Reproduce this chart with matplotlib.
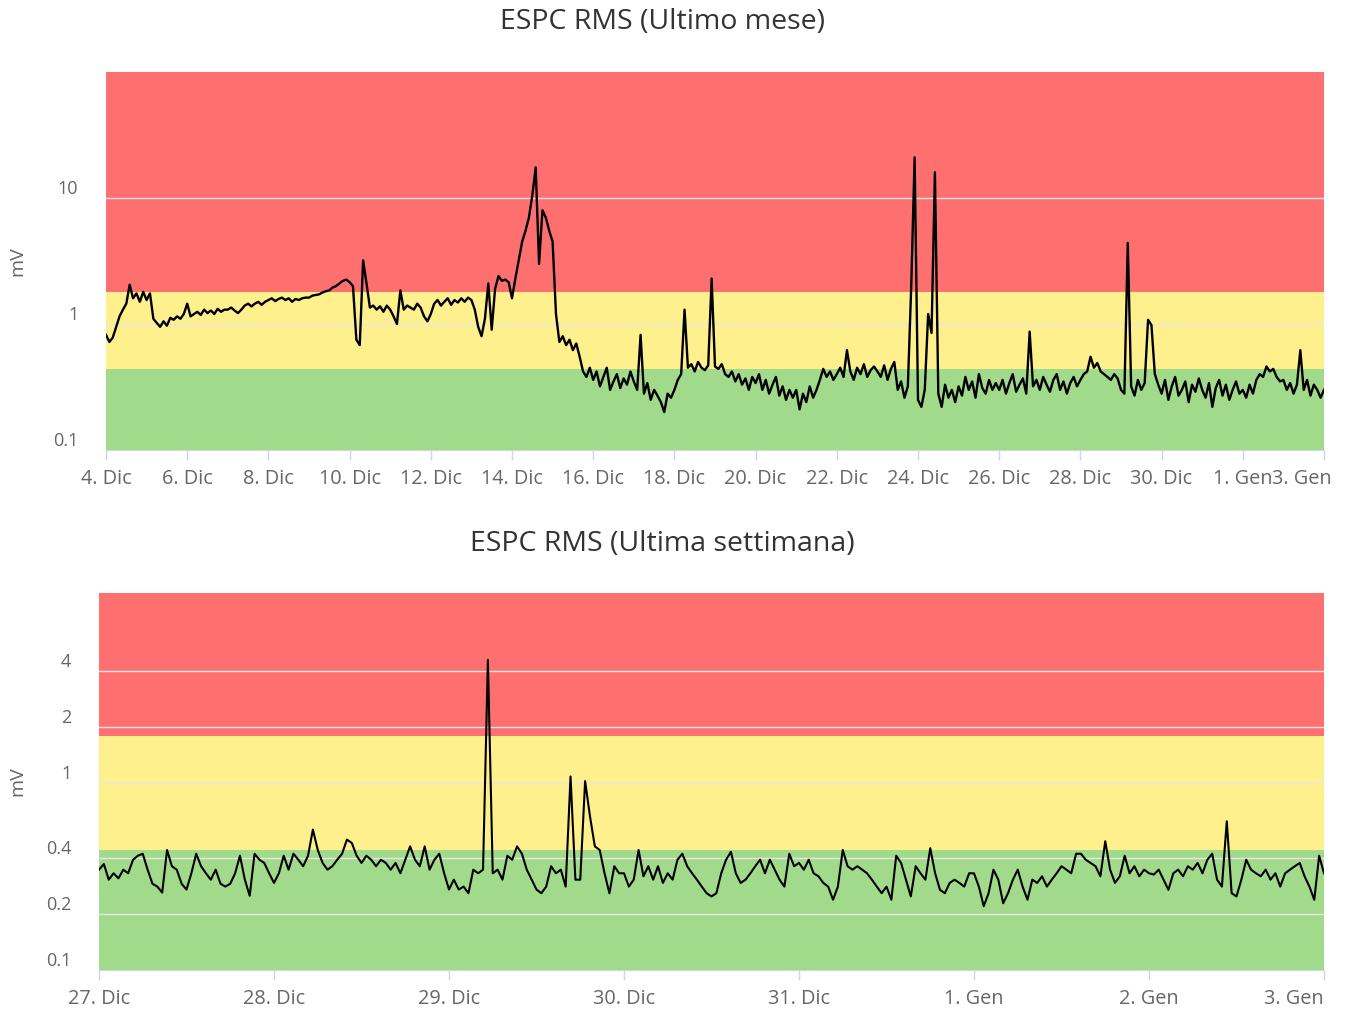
import numpy as np
import matplotlib.pyplot as plt
from matplotlib.transforms import ScaledTranslation

plt.rcParams['font.family'] = ['Open Sans', 'DejaVu Sans']

# ESPC RMS, last month: one value every 2 hours from 4 Dec 00:00 (mV)
month_rms = [
    0.82, 0.72, 0.78, 0.95, 1.15, 1.3, 1.45, 2.05, 1.6, 1.75, 1.5, 1.8,
    1.55, 1.75, 1.1, 1.02, 0.95, 1.05, 0.97, 1.12, 1.08, 1.15, 1.1, 1.2,
    1.45, 1.15, 1.2, 1.25, 1.18, 1.3, 1.22, 1.28, 1.2, 1.32, 1.25, 1.3,
    1.3, 1.35, 1.28, 1.22, 1.3, 1.4, 1.45, 1.38, 1.45, 1.5, 1.42, 1.5,
    1.55, 1.6, 1.52, 1.58, 1.62, 1.55, 1.6, 1.5, 1.58, 1.55, 1.6, 1.62,
    1.62, 1.68, 1.7, 1.72, 1.78, 1.82, 1.85, 1.95, 2.0, 2.1, 2.2, 2.25,
    2.15, 2.0, 0.75, 0.68, 3.2, 2.1, 1.35, 1.4, 1.3, 1.38, 1.25, 1.4,
    1.3, 1.15, 1.0, 1.85, 1.3, 1.4, 1.35, 1.3, 1.45, 1.35, 1.15, 1.05,
    1.2, 1.45, 1.55, 1.4, 1.5, 1.6, 1.42, 1.55, 1.48, 1.6, 1.5, 1.62,
    1.55, 1.3, 0.95, 0.8, 1.1, 2.1, 0.9, 1.9, 2.4, 2.2, 2.25, 2.15,
    1.6, 2.3, 3.2, 4.5, 5.5, 7.0, 10.5, 17.5, 3.0, 8.0, 7.0, 5.5,
    4.5, 1.2, 0.72, 0.8, 0.68, 0.75, 0.62, 0.7, 0.55, 0.42, 0.38, 0.45,
    0.36, 0.42, 0.32, 0.38, 0.45, 0.3, 0.35, 0.4, 0.31, 0.37, 0.33, 0.42,
    0.35, 0.3, 0.82, 0.28, 0.34, 0.25, 0.3, 0.27, 0.24, 0.2, 0.28, 0.26,
    0.3, 0.36, 0.4, 1.3, 0.45, 0.48, 0.42, 0.5, 0.45, 0.43, 0.47, 2.3,
    0.46, 0.44, 0.48, 0.4, 0.38, 0.42, 0.35, 0.4, 0.33, 0.37, 0.3, 0.38,
    0.34, 0.4, 0.3, 0.36, 0.28, 0.33, 0.38, 0.27, 0.32, 0.25, 0.3, 0.26,
    0.3, 0.21, 0.28, 0.24, 0.32, 0.26, 0.3, 0.36, 0.44, 0.38, 0.42, 0.36,
    0.4, 0.45, 0.38, 0.62, 0.42, 0.36, 0.45, 0.4, 0.48, 0.38, 0.43, 0.46,
    0.42, 0.38, 0.47, 0.36, 0.44, 0.5, 0.3, 0.35, 0.26, 0.32, 2.0, 21.0,
    0.25, 0.22, 0.3, 1.2, 0.85, 16.0, 0.28, 0.22, 0.33, 0.26, 0.3, 0.24,
    0.32, 0.27, 0.38, 0.3, 0.35, 0.26, 0.4, 0.31, 0.28, 0.36, 0.3, 0.34,
    0.3, 0.36, 0.28, 0.34, 0.4, 0.29, 0.33, 0.37, 0.28, 0.87, 0.32, 0.36,
    0.3, 0.38, 0.33, 0.29, 0.36, 0.4, 0.3, 0.35, 0.28, 0.34, 0.38, 0.32,
    0.36, 0.4, 0.42, 0.55, 0.45, 0.49, 0.42, 0.4, 0.38, 0.36, 0.4, 0.37,
    0.3, 0.28, 4.4, 0.32, 0.27, 0.36, 0.3, 0.34, 1.08, 0.98, 0.4, 0.33,
    0.28, 0.36, 0.25, 0.32, 0.38, 0.27, 0.3, 0.35, 0.24, 0.33, 0.29, 0.37,
    0.3, 0.26, 0.34, 0.22, 0.31, 0.36, 0.27, 0.33, 0.25, 0.3, 0.35, 0.28,
    0.3, 0.26, 0.33, 0.28, 0.36, 0.4, 0.38, 0.46, 0.42, 0.44, 0.38, 0.35,
    0.36, 0.3, 0.34, 0.28, 0.33, 0.62, 0.3, 0.36, 0.27, 0.33, 0.3, 0.26,
    0.3,
]

# ESPC RMS, last week: one value every 40 minutes from 27 Dec 00:00 (mV)
week_rms = [
    0.345, 0.37, 0.305, 0.33, 0.31, 0.345, 0.33, 0.39, 0.41, 0.42,
    0.345, 0.29, 0.28, 0.26, 0.44, 0.36, 0.345, 0.29, 0.27, 0.33,
    0.42, 0.36, 0.33, 0.305, 0.345, 0.29, 0.28, 0.29, 0.33, 0.41,
    0.305, 0.25, 0.42, 0.39, 0.375, 0.33,
    0.293, 0.33, 0.41, 0.345, 0.42, 0.39, 0.36, 0.41, 0.566, 0.44,
    0.375, 0.345, 0.36, 0.39, 0.42, 0.5, 0.48, 0.41, 0.375, 0.41,
    0.39, 0.36, 0.39, 0.375, 0.345, 0.375, 0.33, 0.39, 0.46, 0.39,
    0.36, 0.46, 0.345, 0.39, 0.42, 0.33,
    0.27, 0.305, 0.27, 0.28, 0.258, 0.345, 0.33, 0.345, 4.6, 0.33,
    0.345, 0.305, 0.41, 0.39, 0.46, 0.42, 0.345, 0.305, 0.27, 0.258,
    0.28, 0.36, 0.33, 0.345, 0.28, 1.09, 0.305, 0.305, 1.03, 0.667,
    0.46, 0.44, 0.33, 0.258, 0.36, 0.33,
    0.33, 0.28, 0.305, 0.44, 0.318, 0.36, 0.305, 0.36, 0.293, 0.33,
    0.305, 0.39, 0.42, 0.36, 0.33, 0.305, 0.28, 0.258, 0.248, 0.258,
    0.33, 0.39, 0.43, 0.33, 0.293, 0.305, 0.33, 0.36, 0.39, 0.33,
    0.39, 0.345, 0.305, 0.28, 0.42, 0.36,
    0.375, 0.345, 0.39, 0.33, 0.318, 0.293, 0.28, 0.238, 0.28, 0.44,
    0.36, 0.345, 0.36, 0.345, 0.33, 0.305, 0.28, 0.258, 0.28, 0.238,
    0.41, 0.375, 0.305, 0.248, 0.36, 0.33, 0.305, 0.45, 0.33, 0.269,
    0.258, 0.293, 0.305, 0.293, 0.28, 0.33,
    0.33, 0.28, 0.22, 0.258, 0.345, 0.305, 0.228, 0.258, 0.305, 0.345,
    0.28, 0.238, 0.305, 0.293, 0.318, 0.28, 0.305, 0.33, 0.36, 0.345,
    0.33, 0.42, 0.42, 0.39, 0.375, 0.36, 0.318, 0.49, 0.345, 0.293,
    0.318, 0.41, 0.33, 0.36, 0.318, 0.345,
    0.33, 0.325, 0.345, 0.305, 0.269, 0.33, 0.345, 0.318, 0.36, 0.345,
    0.375, 0.33, 0.39, 0.42, 0.305, 0.28, 0.627, 0.258, 0.248, 0.305,
    0.39, 0.345, 0.33, 0.318, 0.345, 0.305, 0.33, 0.28, 0.33, 0.345,
    0.36, 0.375, 0.318, 0.28, 0.238, 0.41,
    0.33,
]

month_labels = ['4. Dic', '6. Dic', '8. Dic', '10. Dic', '12. Dic', '14. Dic',
                '16. Dic', '18. Dic', '20. Dic', '22. Dic', '24. Dic', '26. Dic',
                '28. Dic', '30. Dic', '1. Gen', '3. Gen']
week_labels = ['27. Dic', '28. Dic', '29. Dic', '30. Dic', '31. Dic',
               '1. Gen', '2. Gen', '3. Gen']

# alarm bands (mV)
green_top = 0.44
yellow_top = 1.8

month_t = np.arange(len(month_rms)) / 12.0   # days since 4 Dic
week_t = np.arange(len(week_rms)) / 36.0     # days since 27 Dic

fig = plt.figure(figsize=(13.47, 10.10), dpi=100)
ax1 = fig.add_axes([106 / 1347, 1 - 450 / 1010, 1218 / 1347, 378 / 1010])
ax2 = fig.add_axes([99 / 1347, 1 - 970 / 1010, 1225 / 1347, 377 / 1010])


def style(ax, t, v, ymax, yticks, ylabels, xlabels, xstep, lw, last_shift):
    ax.set_yscale('log')
    ax.set_ylim(0.1, ymax)
    ax.set_xlim(0, t[-1])
    ax.axhspan(0.1, green_top, color='#a2da8c', lw=0, zorder=0)
    ax.axhspan(green_top, yellow_top, color='#fef08c', lw=0, zorder=0)
    ax.axhspan(yellow_top, ymax, color='#fe7070', lw=0, zorder=0)
    for y in yticks[1:]:
        ax.axhline(y, color='#e6e6e6', lw=1, zorder=1)
    ax.plot(t, v, color='black', lw=lw, zorder=3)

    ax.yaxis.set_minor_locator(plt.NullLocator())
    ax.set_yticks(yticks)
    ax.set_yticklabels(ylabels)
    ax.tick_params(axis='y', length=0, pad=20, labelsize=13, labelcolor='#666666')
    for lab in ax.get_yticklabels():
        lab.set_verticalalignment('bottom')

    ax.set_xticks(np.arange(len(xlabels)) * xstep)
    ax.set_xticklabels(xlabels)
    ax.tick_params(axis='x', length=7, width=1, color='#ccd6eb', pad=7,
                   labelsize=14.3, labelcolor='#666666')
    last = ax.get_xticklabels()[-1]
    last.set_horizontalalignment('right')
    last.set_transform(last.get_transform() +
                       ScaledTranslation(last_shift / 100, 0, fig.dpi_scale_trans))

    for s in ['top', 'right', 'left']:
        ax.spines[s].set_visible(False)
    ax.spines['bottom'].set_color('#ccd6eb')
    ax.set_ylabel('mV', fontsize=14, color='#666666')


style(ax1, month_t, month_rms, 100, [0.1, 1, 10], ['0.1', '1', '10'],
      month_labels, 2, 1.7, 8)
style(ax2, week_t, week_rms, 10.5, [0.1, 0.2, 0.4, 1, 2, 4],
      ['0.1', '0.2', '0.4', '1', '2', '4'], week_labels, 1, 1.5, 0)

ax1.yaxis.set_label_coords(-80 / 1218, 0.5)
ax2.yaxis.set_label_coords(-73 / 1225, 0.5)

fig.text(662 / 1347, 1 - 22 / 1010, 'ESPC RMS (Ultimo mese)', ha='center', va='center',
         fontsize=20.5, color='#333333')
fig.text(662 / 1347, 1 - 544 / 1010, 'ESPC RMS (Ultima settimana)', ha='center', va='center',
         fontsize=20.5, color='#333333')

fig.savefig('out.png', dpi=100, facecolor='white')
